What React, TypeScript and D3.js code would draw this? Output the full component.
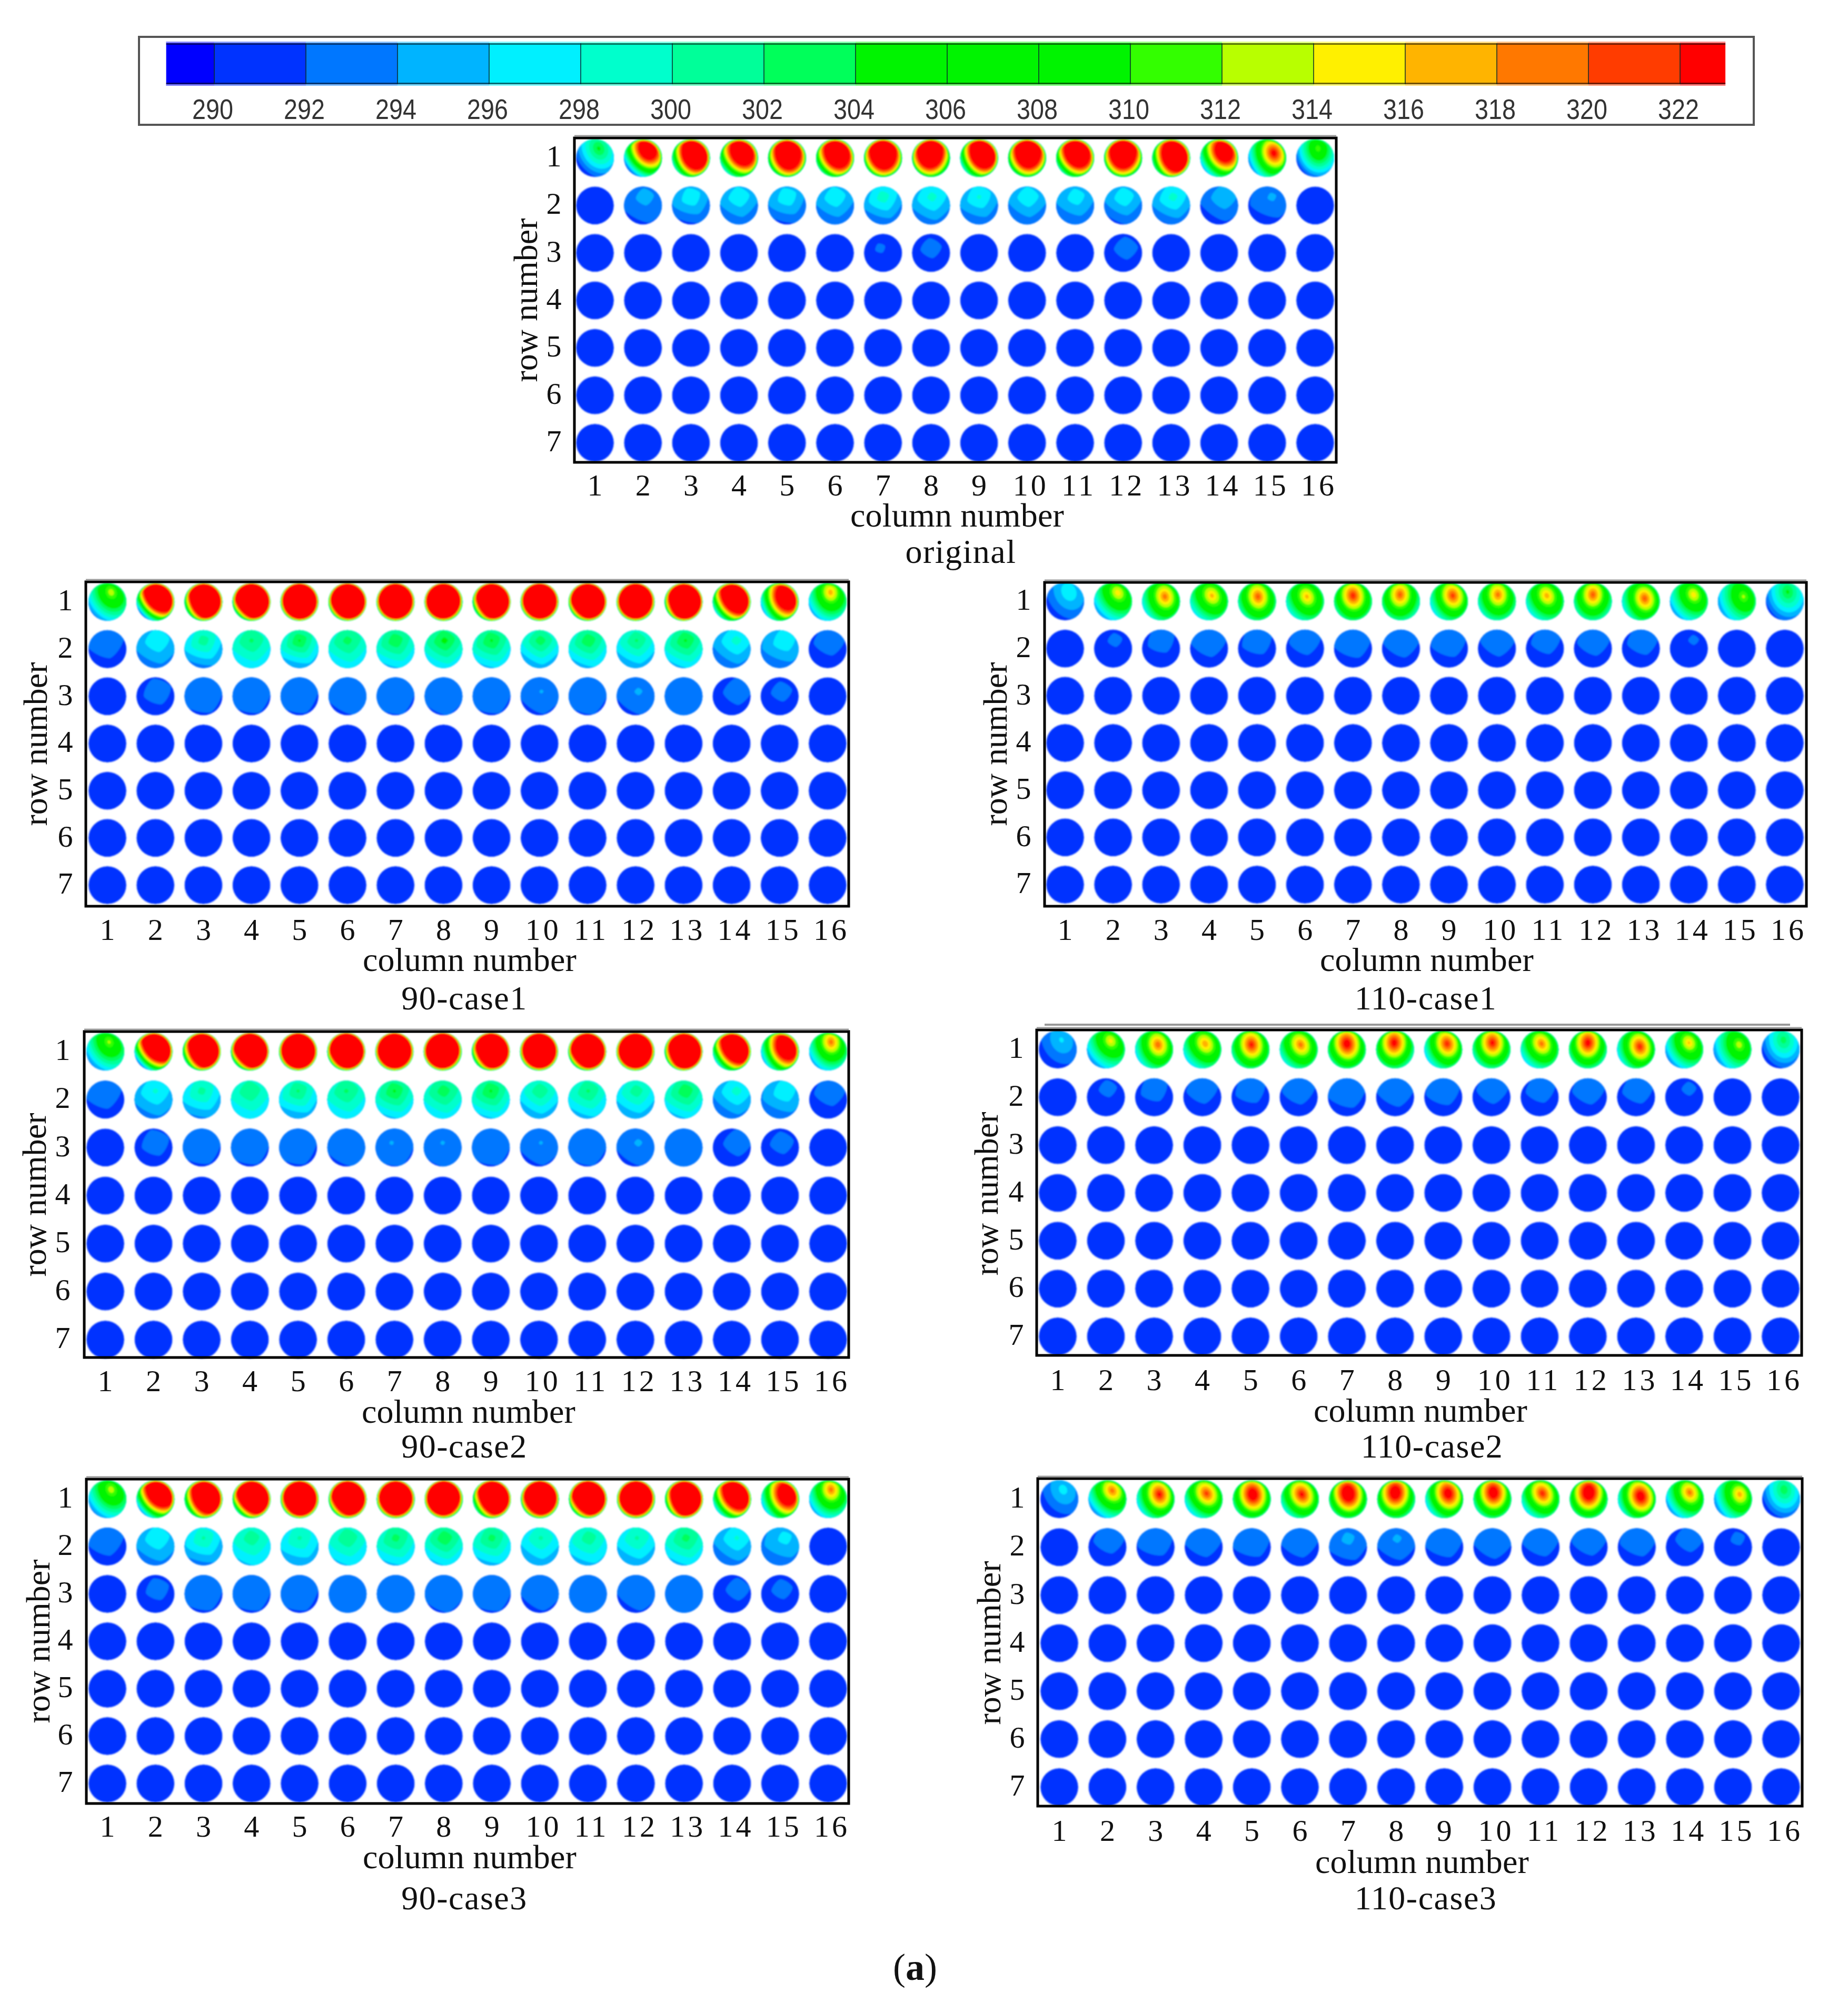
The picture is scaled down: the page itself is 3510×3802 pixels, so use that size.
import React from "react";
import * as d3 from "d3";

// colour levels of the legend (K)
const levels = [290, 292, 294, 296, 298, 300, 302, 304, 306, 308, 310, 312, 314, 316, 318, 320, 322];
const levelColors = [
  "#0000ff", "#0033ff", "#0077ff", "#00b4ff", "#00f0ff", "#00ffcc", "#00ff99", "#00ff5a", "#00f400",
  "#00f400", "#00f400", "#33ff00", "#b8ff00", "#fff000", "#ffb400", "#ff7800", "#ff3c00", "#ff0000",
];
const legendMin = 288.95;
const legendMax = 322.99;

const columns = [1, 2, 3, 4, 5, 6, 7, 8, 9, 10, 11, 12, 13, 14, 15, 16];
const rows = [1, 2, 3, 4, 5, 6, 7];
const coolTemp = 291;

// hot spot position and tilt for each column, same pattern in all cases
const row1HotX = [0.2, 0.25, 0.2, 0.15, 0.05, 0.1, 0, -0.05, 0.2, 0.05, 0.1, 0, 0.2, 0.25, 0.35, 0.15];
const row1HotY = [-0.5, -0.45, -0.25, -0.3, -0.25, -0.25, -0.3, -0.35, -0.3, -0.35, -0.3, -0.35, -0.15, -0.35, -0.25, -0.5];
const row1Tilt = [25, 30, 15, 30, 10, 25, 10, 0, 15, 5, 25, 0, 15, 25, 20, 10];
const row2HotX = [-0.1, 0.1, 0, 0, 0, 0, 0, 0.05, 0, 0.05, 0.05, 0.05, 0.1, 0.25, 0.25, 0.1];
const row2Tilt = [15, 10, 25, 10, 25, 10, 20, 10, 20, 5, 15, 10, 15, 5, 20, 10];
const row3HotX = [0, 0.1, -0.1, -0.1, -0.15, 0.1, -0.15, 0, -0.1, 0.1, -0.1, 0.15, 0, 0.3, 0.1, 0];
const row3Tilt = [10, 20, 25, 25, 25, 10, 25, 10, 25, 5, 20, 5, 10, 5, 10, 10];

const flatRow = [291, 291, 291, 291, 291, 291, 291, 291, 291, 291, 291, 291, 291, 291, 291, 291];

// peak and lowest temperature per tube
const originalPeak1 = [305, 336, 349, 342, 349, 346, 351, 349, 349, 349, 347, 351, 349, 336, 325, 312];
const originalLow1 = [292, 298, 300, 300, 300, 300, 301, 301, 300, 301, 300, 301, 301, 299, 297, 292];
const originalPeak2 = [291.5, 295, 298, 298, 298, 298, 299.5, 299, 298.5, 298, 297.5, 298, 299, 296, 294.5, 291.5];
const originalLow2 = [291, 291.5, 291.5, 292, 291.5, 292, 292, 292.5, 292, 292, 292, 291.5, 292, 291, 291, 291];
const originalPeak3 = [291, 291, 291, 291, 291, 291, 292.2, 292.5, 291, 291, 291, 292.6, 291, 291, 291, 291];

const c901Peak1 = [314, 360, 375, 395, 395, 395, 395, 395, 395, 395, 395, 395, 385, 355, 340, 318];
const c901Low1 = [296, 302, 304, 305, 305, 305, 305, 305, 305, 305, 305, 305, 305, 303, 300, 296];
const c901Peak2 = [293.5, 298, 301.5, 302.5, 304.5, 303, 304, 305, 304.5, 303.5, 304, 302.5, 304.5, 299, 298, 293];
const c901Low2 = [291, 292.8, 293, 296, 294, 296, 295.5, 296, 295.5, 294, 295, 294, 295.5, 292.5, 292.5, 291];
const c901Peak3 = [291.5, 292.8, 293.5, 293.6, 293.6, 293.6, 294, 293.8, 293.7, 294.2, 293.8, 294.4, 293.8, 292.8, 292.5, 291.5];
const c901Low3 = [291, 291, 291.5, 291.5, 291.5, 291.5, 291.5, 291.5, 291.5, 291.2, 291.5, 291.2, 292.2, 291, 291, 291];

const c902Peak1 = [313, 360, 372, 392, 392, 392, 392, 392, 392, 392, 392, 392, 385, 355, 340, 320];
const c902Low1 = [296, 302, 303, 305, 305, 305, 305, 305, 305, 305, 305, 305, 305, 303, 300, 296];
const c902Peak2 = [293.5, 298.5, 301, 302, 302.5, 302.5, 304.5, 303.5, 304.5, 302, 302.5, 301.5, 304, 299, 298, 293];
const c902Low2 = [291, 293, 293.5, 296, 294, 296, 295.5, 296, 295.5, 294, 295, 294, 295.5, 292.5, 292.5, 291];
const c902Peak3 = [291.5, 292.8, 293.5, 293.6, 293.6, 293.7, 294.2, 294.2, 293.8, 294.2, 293.8, 294.4, 293.8, 292.8, 292.6, 291.5];

const c903Peak1 = [314, 350, 358, 372, 375, 378, 378, 378, 372, 375, 378, 378, 372, 350, 336, 320];
const c903Low1 = [296, 302, 303, 303, 304, 304, 304, 305, 303, 303, 304, 304, 303, 302, 300, 296];
const c903Peak2 = [293.5, 298, 300.5, 301.5, 300.5, 302, 303, 304, 303, 300.5, 301.5, 300.5, 303, 298.5, 297, 291.5];
const c903Low2 = [291, 292.8, 293, 295.5, 294, 295.5, 295.5, 295.5, 295, 294, 295, 294, 295.5, 292.5, 292.5, 291];
const c903Peak3 = [291.5, 292.6, 293.5, 293.6, 293.6, 293.7, 293.7, 293.7, 293.7, 293.7, 293.6, 293.7, 293.7, 292.6, 292.5, 291.5];
const c903Low3 = [291, 291, 291.5, 291.5, 291.5, 291.8, 291.8, 291.5, 291.5, 291.3, 291.8, 291.3, 292.2, 291, 291, 291];

const c1101Peak1 = [298, 316, 320, 317.5, 321, 317.5, 323, 321, 322, 320, 318, 321, 321, 316, 313, 305];
const c1101Low1 = [291.5, 297, 297.5, 297.5, 297.5, 297, 298, 297.5, 297.5, 297, 297, 297, 297, 296, 296, 291.8];
const c1101Peak2 = [291, 292.3, 292.8, 293.3, 293, 293, 293.6, 293.4, 293.4, 293.2, 292.9, 293.1, 293, 292.2, 291.5, 291.5];

const c1102Peak1 = [296.5, 315.5, 320.5, 318.5, 323.5, 320, 326, 325, 323, 324, 320, 325, 323, 317, 314, 303.5];
const c1102Low1 = [291, 296.5, 297, 297, 297.5, 297, 298, 297.5, 297, 297, 296, 297, 296.5, 295.5, 295.5, 291];
const c1102Peak2 = [291, 292.4, 292.8, 293, 293, 293.1, 293.9, 293.5, 293.3, 293, 292.9, 293.1, 293, 292.3, 291.5, 291.5];

const c1103Peak1 = [297, 320, 324, 322, 328, 324, 331, 329, 327, 328, 323, 330, 327, 320, 318, 304];
const c1103Low1 = [291, 297, 297, 297, 298, 297, 298, 298, 297.5, 297.5, 296.5, 298, 297, 296, 296, 291];
const c1103Peak2 = [291, 293, 293.5, 293.6, 293.8, 293.7, 294.8, 294.5, 293.8, 294, 293.5, 293.3, 293.5, 292.8, 292.3, 291.5];

// placement of each panel in the figure
const panels = [
  { name: "original", x0: 1091, x1: 2538, y0: 262, y1: 878, col1: 1130, col16: 2498, row1: 300, row7: 841, tickY: 921, rowTickX: 1052,
    colTitle: [1818, 981], nameAt: [1825, 1050], rowTitle: [1001, 570],
    peaks: [originalPeak1, originalPeak2, originalPeak3], lows: [originalLow1, originalLow2, flatRow] },
  { name: "90-case1", x0: 163, x1: 1612, y0: 1105, y1: 1721, col1: 204, col16: 1572, row1: 1143, row7: 1681, tickY: 1765, rowTickX: 124,
    colTitle: [892, 1825], nameAt: [882, 1898], rowTitle: [70, 1413],
    peaks: [c901Peak1, c901Peak2, c901Peak3], lows: [c901Low1, c901Low2, c901Low3] },
  { name: "110-case1", x0: 1984, x1: 3431, y0: 1106, y1: 1721, col1: 2023, col16: 3390, row1: 1142, row7: 1680, tickY: 1765, rowTickX: 1944,
    colTitle: [2710, 1825], nameAt: [2708, 1898], rowTitle: [1893, 1413],
    peaks: [c1101Peak1, c1101Peak2, flatRow], lows: [c1101Low1, flatRow, flatRow] },
  { name: "90-case2", x0: 160, x1: 1612, y0: 1959, y1: 2578, col1: 200, col16: 1573, row1: 1997, row7: 2544, tickY: 2622, rowTickX: 119,
    colTitle: [890, 2683], nameAt: [882, 2749], rowTitle: [68, 2269],
    peaks: [c902Peak1, c902Peak2, c902Peak3], lows: [c902Low1, c902Low2, c901Low3] },
  { name: "110-case2", x0: 1969, x1: 3422, y0: 1956, y1: 2574, col1: 2009, col16: 3382, row1: 1993, row7: 2538, tickY: 2620, rowTickX: 1930,
    colTitle: [2698, 2681], nameAt: [2720, 2749], rowTitle: [1876, 2267], topLine: [1984, 3400, 1946],
    peaks: [c1102Peak1, c1102Peak2, flatRow], lows: [c1102Low1, flatRow, flatRow] },
  { name: "90-case3", x0: 164, x1: 1612, y0: 2809, y1: 3425, col1: 204, col16: 1573, row1: 2847, row7: 3387, tickY: 3468, rowTickX: 124,
    colTitle: [892, 3529], nameAt: [882, 3607], rowTitle: [75, 3117],
    peaks: [c903Peak1, c903Peak2, c903Peak3], lows: [c903Low1, c903Low2, c903Low3] },
  { name: "110-case3", x0: 1971, x1: 3423, y0: 2808, y1: 3430, col1: 2012, col16: 3383, row1: 2847, row7: 3394, tickY: 3476, rowTickX: 1932,
    colTitle: [2701, 3538], nameAt: [2708, 3607], rowTitle: [1881, 3120],
    peaks: [c1103Peak1, c1103Peak2, flatRow], lows: [c1103Low1, flatRow, flatRow] },
];

const color = d3.scaleThreshold<number, string>().domain(levels).range(levelColors);
const legendX = d3.scaleLinear().domain([290, 322]).range([407, 3191]);

const tubeR = 36;
const gridN = 36;
const gridSpan = 1.08;

const toTube = d3.geoPath(
  d3.geoTransform({
    point(x, y) {
      this.stream.point(((x / gridN) * 2 - 1) * gridSpan * tubeR, ((y / gridN) * 2 - 1) * gridSpan * tubeR);
    },
  })
);

// temperature over the tube section, rings around the hot spot and a cooler wall
function tubePaths(peak: number, low: number, hx: number, hy: number, tiltDeg: number, sharp: number, wide: number) {
  const a = (tiltDeg * Math.PI) / 180;
  const values: number[] = [];
  for (let j = 0; j < gridN; j++) {
    for (let i = 0; i < gridN; i++) {
      const u = (((i + 0.5) / gridN) * 2 - 1) * gridSpan;
      const v = (((j + 0.5) / gridN) * 2 - 1) * gridSpan;
      const dx = u - hx;
      const dy = v - hy;
      const along = dx * Math.sin(a) + dy * Math.cos(a);
      const across = dx * Math.cos(a) - dy * Math.sin(a);
      const d = Math.pow(Math.pow(Math.abs(along) / 1.6, sharp) + Math.pow(Math.abs(across) / wide, sharp), 1 / sharp);
      let t = peak - (peak - low) * d;
      const r = Math.hypot(u, v);
      if (r > 0.88) {
        const s = Math.min(1, (r - 0.88) / 0.12);
        t = t + (Math.min(t, 303) - t) * s;
      }
      values.push(Math.max(t, 290.2));
    }
  }
  return d3.contours().size([gridN, gridN]).thresholds(levels)(values).filter((c) => c.coordinates.length > 0);
}

function Tube({ x, y, peak, low, hx, hy, tilt, sharp, wide }: any) {
  const flat = peak <= 291.95;
  return (
    <g transform={`translate(${x},${y})`} clipPath="url(#tubeClip)">
      <ellipse rx={tubeR} ry={tubeR} fill={color(flat ? coolTemp : Math.min(low, 303))} />
      {!flat &&
        tubePaths(peak, low, hx, hy, tilt, sharp, wide).map((c, i) => (
          <path key={i} d={toTube(c as any) || ""} fill={color(c.value)} />
        ))}
    </g>
  );
}

function Panel({ p }: any) {
  const x = d3.scaleLinear().domain([1, 16]).range([p.col1, p.col16]);
  const y = d3.scaleLinear().domain([1, 7]).range([p.row1, p.row7]);
  return (
    <g>
      <g filter="url(#soften)">
        {rows.map((r) =>
          columns.map((c, i) => {
            const k = r - 1;
            const peak = k < 3 ? p.peaks[k][i] : coolTemp;
            const low = k < 3 ? p.lows[k][i] : coolTemp;
            const hx = k === 0 ? row1HotX[i] : k === 1 ? row2HotX[i] : row3HotX[i];
            const hy = k === 0 ? row1HotY[i] : k === 1 ? -0.45 : -0.25;
            const tilt = k === 0 ? row1Tilt[i] : k === 1 ? row2Tilt[i] : row3Tilt[i];
            return (
              <Tube
                key={`${r}-${c}`}
                x={x(c)}
                y={y(r)}
                peak={peak}
                low={low}
                hx={hx}
                hy={hy}
                tilt={tilt}
                sharp={k === 0 ? 2 : 1.4}
                wide={k === 0 ? 1.25 : 1.7}
              />
            );
          })
        )}
      </g>
      <rect x={p.x0} y={p.y0} width={p.x1 - p.x0} height={p.y1 - p.y0} fill="none" stroke="#000" strokeWidth={5} />
      <line x1={p.x0} x2={p.x1} y1={p.y0 - 4} y2={p.y0 - 4} stroke="#999" strokeWidth={3} />
      {p.topLine && <line x1={p.topLine[0]} x2={p.topLine[1]} y1={p.topLine[2]} y2={p.topLine[2]} stroke="#999" strokeWidth={4} />}
      <g fontFamily="'Liberation Serif'" fill="#111" fontSize={58} textAnchor="middle">
        {columns.map((c) => (
          <text key={c} x={x(c) + (c > 9 ? 7 : 0)} y={p.tickY} dy="0.34em" letterSpacing={c > 9 ? 5 : 0}>
            {c}
          </text>
        ))}
        {rows.map((r) => (
          <text key={r} x={p.rowTickX} y={y(r)} dy="0.28em">
            {r}
          </text>
        ))}
      </g>
      <g fontFamily="'Liberation Serif'" fill="#111" fontSize={64} textAnchor="middle">
        <text x={p.colTitle[0]} y={p.colTitle[1]} dy="0.3em" letterSpacing={0.2}>column number</text>
        <text x={p.nameAt[0]} y={p.nameAt[1]} dy="0.3em" letterSpacing={1.5}>{p.name}</text>
        <text
          transform={`translate(${p.rowTitle[0]},${p.rowTitle[1]}) rotate(-90)`}
          dy="0.3em"
        >
          row number
        </text>
      </g>
    </g>
  );
}

function Legend() {
  const xs = legendX;
  const edges = [legendMin, ...levels, legendMax];
  const barL = xs(legendMin);
  const barR = xs(legendMax);
  return (
    <g>
      <rect x={264} y={70} width={3067} height={167} fill="#fff" stroke="#555" strokeWidth={4} />
      {levelColors.map((c, i) => (
        <rect key={i} x={xs(edges[i])} y={79} width={xs(edges[i + 1]) - xs(edges[i])} height={84} fill={c} />
      ))}
      <rect x={barL} y={79} width={barR - barL} height={3} fill="#fff" opacity={0.5} />
      <rect x={barL} y={160} width={barR - barL} height={3} fill="#fff" opacity={0.5} />
      <rect x={barL} y={82} width={barR - barL} height={3} fill="#000" opacity={0.55} />
      <rect x={barL} y={157} width={barR - barL} height={3} fill="#000" opacity={0.55} />
      {levels.map((v) => (
        <line key={v} x1={xs(v)} x2={xs(v)} y1={82} y2={160} stroke="#0a2a2a" strokeWidth={1.5} />
      ))}
      <g fontFamily="'Liberation Sans'" fontSize={54} fill="#333" textAnchor="middle">
        {levels.map((v) => (
          <text key={v} x={xs(v) - 3} y={207} dy="0.35em" textLength={78} lengthAdjust="spacingAndGlyphs">
            {v}
          </text>
        ))}
      </g>
    </g>
  );
}

export default function App() {
  return (
    <svg
      width={3510}
      height={3802}
      viewBox="0 0 3510 3802"
      style={{ position: "absolute", left: 0, top: 0, display: "block", background: "#fff" }}
    >
      <defs>
        <clipPath id="tubeClip">
          <ellipse rx={tubeR} ry={tubeR} />
        </clipPath>
        <filter id="soften" x="-2%" y="-2%" width="104%" height="104%">
          <feGaussianBlur stdDeviation={1.6} />
        </filter>
      </defs>
      <Legend />
      {panels.map((p) => (
        <Panel key={p.name} p={p} />
      ))}
      <text x={1738} y={3760} fontFamily="'Liberation Serif'" fontSize={72} fill="#111" textAnchor="middle">
        (<tspan fontWeight="bold">a</tspan>)
      </text>
    </svg>
  );
}
